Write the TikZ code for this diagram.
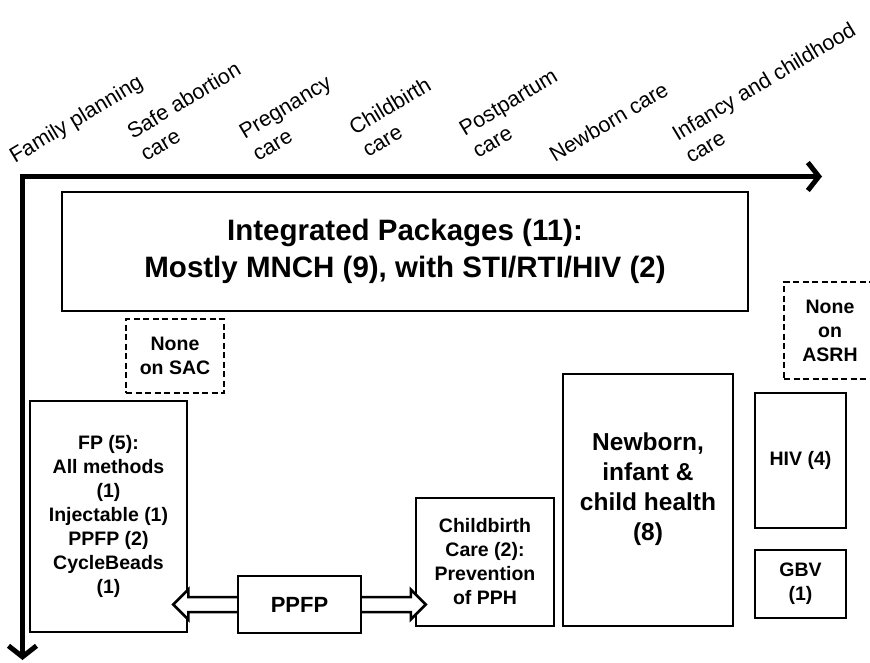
\documentclass[tikz,border=0pt]{standalone}
\usepackage{fontspec}
\setmainfont{Liberation Sans}
\usetikzlibrary{arrows.meta,calc}
\begin{document}
\begin{tikzpicture}[x=1pt,y=-1pt,
  axis/.style={line width=5pt, {Straight Barb[length=11pt,width=28pt]}-{Straight Barb[length=11pt,width=28pt]}},
  lab/.style={rotate=31, anchor=base west, align=left, inner sep=0pt, font=\fontsize{21.5}{26}\selectfont},
  box/.style={draw, line width=2.5pt, fill=white, inner sep=0pt, align=center, font=\bfseries\fontsize{19.5}{24}\selectfont},
  nonebox/.style={box, line width=1.8pt, dash pattern=on 6pt off 3.5pt},
  hollow/.style={draw, line width=2.5pt, fill=white, line join=miter}
]
\clip (0,0) rectangle (870,663);
\fill[white] (0,0) rectangle (870,663);

% axes
\coordinate (o) at (22.5,176.5);
\coordinate (xe) at (822,176.5);
\coordinate (ye) at (22.5,660);
\draw[axis] (xe) -- (o) -- (ye);

% axis labels (anchor = baseline start of the last line)
\node[lab] (l1) at (15,164) {Family planning};
\node[lab] (l2) at (146,162) {Safe abortion\\care};
\node[lab] (l3) at (258,162) {Pregnancy\\care};
\node[lab] (l4) at (368,158) {Childbirth\\care};
\node[lab] (l5) at (478,159) {Postpartum\\care};
\node[lab] (l6) at (555,163) {Newborn care};
\node[lab] (l7) at (691,164) {Infancy and childhood\\care};

% boxes
\node[box, minimum width=686, minimum height=119, font=\bfseries\fontsize{29.5}{37}\selectfont] (ip) at (405,251.5)
  {Integrated Packages (11):\\Mostly MNCH (9), with STI/RTI/HIV (2)};
\node[nonebox, minimum width=98, minimum height=74] (sac) at (175,356) {None\\on SAC};
\node[nonebox, minimum width=92, minimum height=97] (asrh) at (830,330.5) {None\\on\\ASRH};
\node[box, minimum width=157, minimum height=231] (fp) at (108.5,516.5)
  {FP (5):\\All methods\\(1)\\Injectable (1)\\PPFP (2)\\CycleBeads\\(1)};
\node[box, minimum width=138, minimum height=128] (cb) at (485,562)
  {Childbirth\\Care (2):\\Prevention\\of PPH};
\node[box, minimum width=170, minimum height=252] (nb) at (648,500) {};
\node[align=center, inner sep=0pt, font=\bfseries\fontsize{24.5}{30}\selectfont] (nbt) at ([yshift=11pt]nb.center)
  {Newborn,\\infant \&\\child health\\(8)};
\node[box, minimum width=91, minimum height=135] (hiv) at (800.5,460.5) {HIV (4)};
\node[box, minimum width=91, minimum height=68] (gbv) at (800.5,584) {GBV\\(1)};

% double hollow arrow
\coordinate (pc) at (299.5,604.5);
\coordinate (tL) at ($(fp.east |- pc)+(-15,0)$);
\coordinate (tR) at ($(cb.west |- pc)+(11,0)$);
\draw[hollow] (tL) -- ++(15,-15) -- ++(0,7.5) -- ($(tR)+(-15,-7.5)$) -- ++(0,-7.5) -- (tR)
  -- ++(-15,15) -- ++(0,-7.5) -- ($(tL)+(15,7.5)$) -- ++(0,7.5) -- cycle;
\node[box, minimum width=123, minimum height=57, font=\bfseries\fontsize{22}{26}\selectfont] (pp) at (pc) {PPFP};
\end{tikzpicture}
\end{document}
